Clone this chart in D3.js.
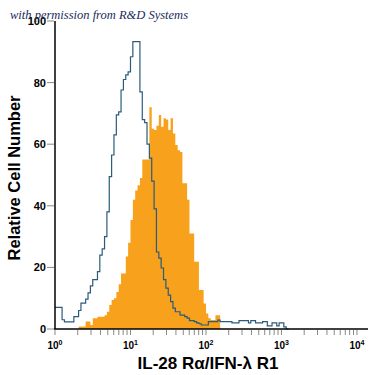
<!DOCTYPE html>
<html lang="en">
<head>
<meta charset="UTF-8">
<script src="https://d3js.org/d3.v7.min.js"></script>
<style>
  body { margin: 0; background: #fff; }
  svg { display: block; }
</style>
</head>
<body>
<script>
// histogram bins: 32 per decade, bin i starts at 10^(i/32)
const binsPerDecade = 32;

// isotype control (outline)
const isotypeCounts = [7, 7, 7, 3, 2.3, 2.3, 2.3, 2.3, 4, 4,
  6, 8.4, 8.4, 9.7, 11.7, 14, 16, 16, 18.6, 24,
  26, 30, 38, 49.5, 56.5, 63, 69.5, 70.5, 77.6, 81,
  82.5, 83.5, 88.4, 93.3, 93.3, 93.3, 77, 68, 67, 60,
  55.5, 48, 39, 25, 23, 19.8, 16, 13.3, 11, 8.9,
  6.8, 5.6, 5.6, 4.5, 4.5, 4, 3.5, 2.7, 2.7, 2.4,
  2, 1.7, 1.3, 1.3, 1.3, 2.4, 2.4, 2.4, 2.4, 2.9,
  2.4, 2.4, 2.4, 2.4, 2.4, 2, 2, 2, 2.7, 2.7,
  2.7, 2.7, 2, 2.7, 2.7, 2, 2, 2, 2.4, 2.4,
  1, 1, 2, 2, 1, 2, 2, 0.7, 0];

// IL-28 R alpha stained (filled)
const stainedCounts = [0, 0, 0, 0, 0, 0, 0, 0, 0, 0,
  0.8, 0.8, 0.8, 2.4, 2.4, 1.3, 3.5, 3.5, 4, 4,
  4, 4.5, 5.6, 7.8, 9.4, 10, 12, 14.5, 18, 18,
  23.5, 28, 35.4, 42, 45, 46.7, 49, 55, 55, 55,
  72, 65, 64.6, 66, 69.5, 65.7, 68.4, 68, 64.6, 68.4,
  63.5, 59.7, 58, 57.5, 47.3, 47.3, 42, 31, 31, 21.8,
  21.8, 12.7, 12.7, 8.3, 5, 3.5, 2.9, 2.9, 4.5, 4.5,
  0];

const yTicks = [0, 20, 40, 60, 80, 100];
const xDecades = [0, 1, 2, 3, 4];

const w = 375, h = 375;
const padLeft = 55, padRight = 368, padTop = 21, padBottom = 329;

const svg = d3.select("body").append("svg")
  .attr("width", w).attr("height", h);

const x = d3.scaleLog().domain([1, 14000]).range([padLeft, padRight]);
const y = d3.scaleLinear().domain([0, 100]).range([padBottom, padTop]);

// turn counts into step points
function steps(counts) {
  const pts = counts.map((c, i) => [Math.pow(10, i / binsPerDecade), c]);
  pts.push([Math.pow(10, counts.length / binsPerDecade), counts[counts.length - 1]]);
  return pts;
}

const area = d3.area()
  .curve(d3.curveStepAfter)
  .x(d => x(d[0]))
  .y0(y(0))
  .y1(d => y(d[1]));

const line = d3.line()
  .curve(d3.curveStepAfter)
  .x(d => x(d[0]))
  .y(d => y(d[1]));

svg.append("path")
  .attr("d", area(steps(stainedCounts)))
  .attr("fill", "#f7a11c");

svg.append("path")
  .attr("d", line(steps(isotypeCounts)))
  .attr("fill", "none")
  .attr("stroke", "#2c5b7a")
  .attr("stroke-width", 1.2);

// y axis
const yAxis = svg.append("g");
yAxis.append("line")
  .attr("x1", padLeft).attr("x2", padLeft)
  .attr("y1", padTop).attr("y2", padBottom)
  .attr("stroke", "#000").attr("stroke-width", 1.5);
yAxis.selectAll(".yt").data(yTicks).enter().append("line")
  .attr("x1", padLeft - 8).attr("x2", padLeft - 1)
  .attr("y1", d => y(d)).attr("y2", d => y(d))
  .attr("stroke", "#888");
yAxis.selectAll(".yl").data(yTicks).enter().append("text")
  .attr("x", padLeft - 9).attr("y", d => y(d) + 4)
  .attr("text-anchor", "end")
  .attr("font-family", "Liberation Sans, Arial, sans-serif")
  .attr("font-weight", "bold").attr("font-size", 11)
  .text(d => d);

// x axis
const minor = [];
xDecades.forEach(dec => {
  for (let m = 1; m <= 9; m++) {
    const v = m * Math.pow(10, dec);
    if (v <= 14000) minor.push(v);
  }
});
const xAxis = svg.append("g");
xAxis.selectAll(".xt").data(minor).enter().append("line")
  .attr("x1", d => x(d)).attr("x2", d => x(d))
  .attr("y1", padBottom + 1).attr("y2", padBottom + 6)
  .attr("stroke", "#888");
xAxis.append("line")
  .attr("x1", padLeft - 1).attr("x2", padRight)
  .attr("y1", padBottom).attr("y2", padBottom)
  .attr("stroke", "#000").attr("stroke-width", 1.5);
const xl = xAxis.selectAll(".xl").data(xDecades).enter().append("text")
  .attr("x", d => x(Math.pow(10, d)))
  .attr("y", padBottom + 20)
  .attr("text-anchor", "middle")
  .attr("font-family", "Liberation Sans, Arial, sans-serif")
  .attr("font-weight", "bold").attr("font-size", 10);
xl.append("tspan").text("10");
xl.append("tspan").attr("font-size", 7).attr("dy", -4).text(d => d);

// axis titles
svg.append("text")
  .attr("x", 208).attr("y", 369)
  .attr("text-anchor", "middle")
  .attr("font-family", "Liberation Sans, Arial, sans-serif")
  .attr("font-weight", "bold").attr("font-size", 17)
  .text("IL-28 Rα/IFN-λ R1");

svg.append("text")
  .attr("transform", "translate(20,178) rotate(-90)")
  .attr("text-anchor", "middle")
  .attr("font-family", "Liberation Sans, Arial, sans-serif")
  .attr("font-weight", "bold").attr("font-size", 16.5)
  .text("Relative Cell Number");

// watermark
svg.append("text")
  .attr("x", 10).attr("y", 19)
  .attr("font-family", "Liberation Serif, serif")
  .attr("font-style", "italic").attr("font-size", 12.5)
  .attr("fill", "#1c2a5c")
  .text("with permission from R&D Systems");
</script>
</body>
</html>
